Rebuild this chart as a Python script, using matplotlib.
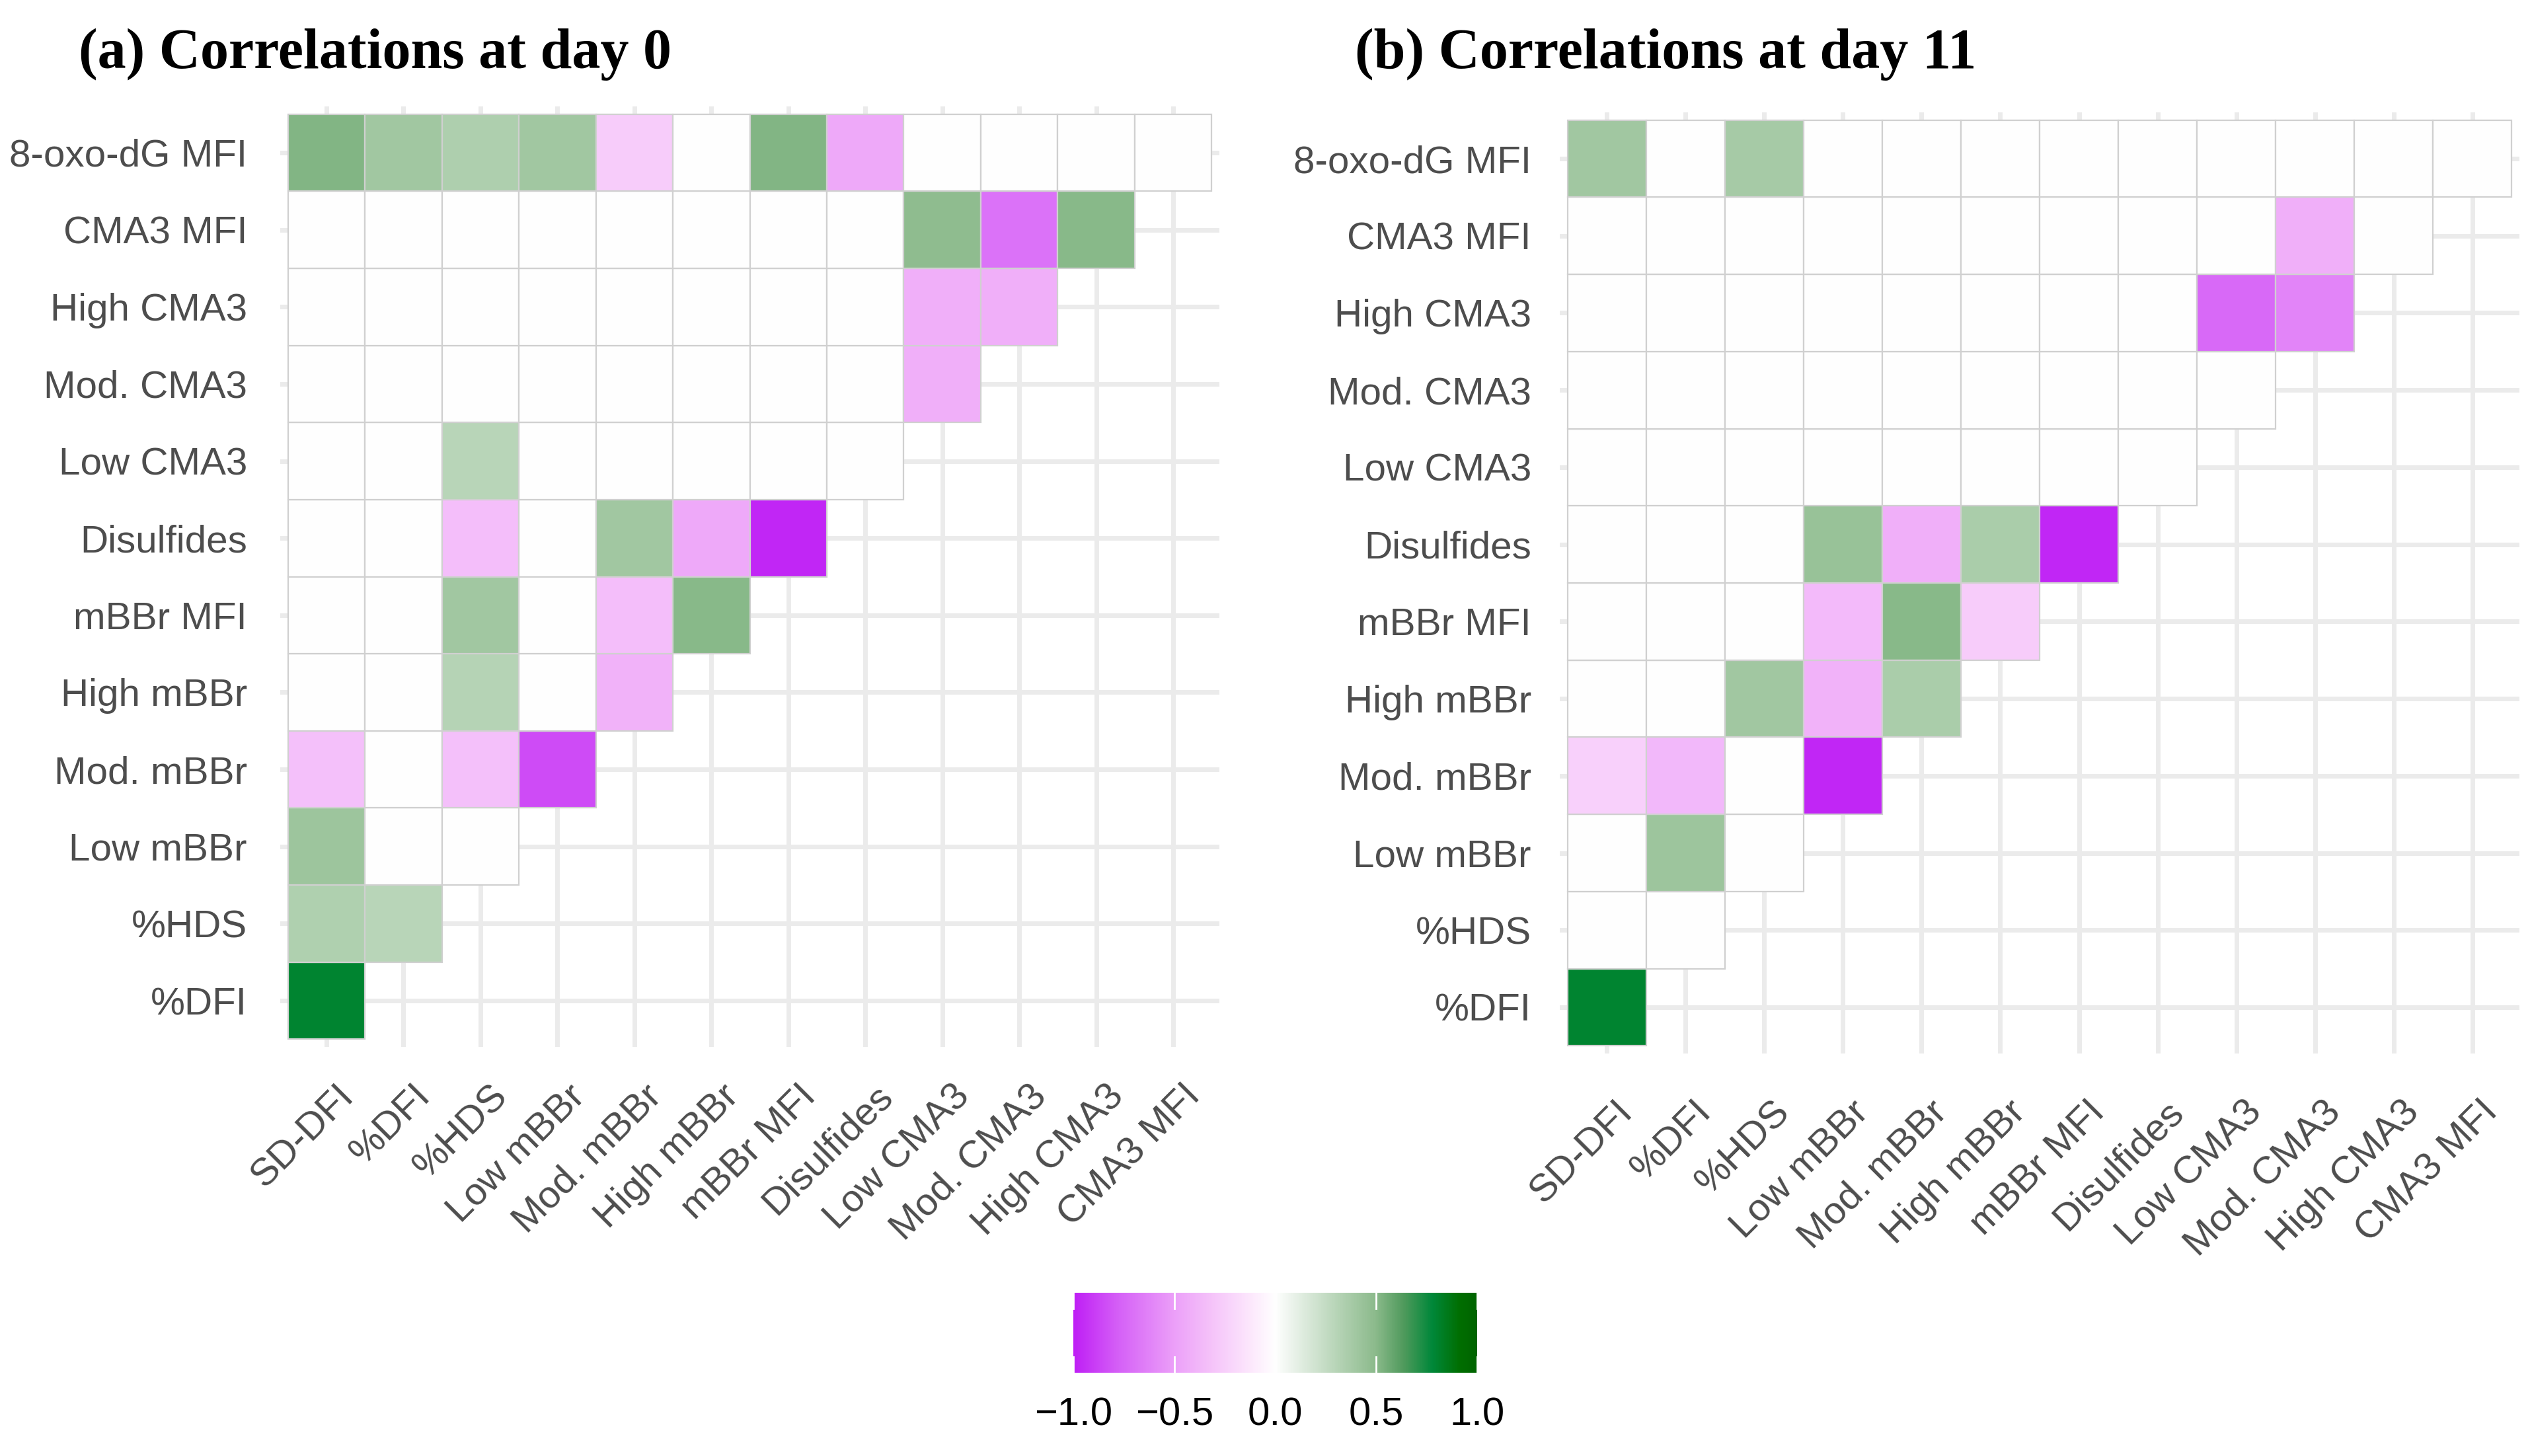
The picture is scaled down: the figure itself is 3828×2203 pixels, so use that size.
import numpy as np
import matplotlib
matplotlib.use('Agg')
import matplotlib.pyplot as plt
from matplotlib.colors import LinearSegmentedColormap, Normalize
import matplotlib.transforms as mtransforms

# variables on x (columns) and y (rows, bottom to top)
x_vars = ['SD-DFI', '%DFI', '%HDS', 'Low mBBr', 'Mod. mBBr', 'High mBBr',
          'mBBr MFI', 'Disulfides', 'Low CMA3', 'Mod. CMA3', 'High CMA3', 'CMA3 MFI']
y_vars = ['%DFI', '%HDS', 'Low mBBr', 'Mod. mBBr', 'High mBBr', 'mBBr MFI',
          'Disulfides', 'Low CMA3', 'Mod. CMA3', 'High CMA3', 'CMA3 MFI', '8-oxo-dG MFI']

# lower-triangle correlations (0 = not significant), one row per y variable
day0_rows = [
    [0.80],
    [0.34, 0.30],
    [0.42, 0, 0],
    [-0.33, 0, -0.33, -0.85],
    [0, 0, 0.32, 0, -0.40],
    [0, 0, 0.40, 0, -0.34, 0.50],
    [0, 0, -0.34, 0, 0.40, -0.45, -0.97],
    [0, 0, 0.30, 0, 0, 0, 0, 0],
    [0, 0, 0, 0, 0, 0, 0, 0, -0.42],
    [0, 0, 0, 0, 0, 0, 0, 0, -0.42, -0.42],
    [0, 0, 0, 0, 0, 0, 0, 0, 0.48, -0.70, 0.50],
    [0.52, 0.40, 0.35, 0.40, -0.27, 0, 0.52, -0.45, 0, 0, 0, 0],
]
day11_rows = [
    [0.80],
    [0, 0],
    [0, 0.42, 0],
    [-0.25, -0.37, 0, -0.97],
    [0, 0, 0.40, -0.40, 0.36],
    [0, 0, 0, -0.36, 0.50, -0.27],
    [0, 0, 0, 0.44, -0.42, 0.36, -0.97],
    [0, 0, 0, 0, 0, 0, 0, 0],
    [0, 0, 0, 0, 0, 0, 0, 0, 0],
    [0, 0, 0, 0, 0, 0, 0, 0, -0.74, -0.62],
    [0, 0, 0, 0, 0, 0, 0, 0, 0, -0.42, 0],
    [0.40, 0, 0.38, 0, 0, 0, 0, 0, 0, 0, 0, 0],
]

cbar_ticks = [-1.0, -0.5, 0.0, 0.5, 1.0]

cmap = LinearSegmentedColormap.from_list('corr', [
    (0.0, '#BF1FF5'), (0.11, '#D560F7'), (0.25, '#ECA0F9'), (0.35, '#F6C6FA'),
    (0.445, '#FDEAFD'), (0.5, '#FFFFFF'), (0.63, '#C2DBC2'), (0.75, '#8BBA8B'),
    (0.82, '#4F9A5C'), (0.89, '#00883A'), (0.96, '#006E00'), (1.0, '#006400')])
norm = Normalize(-1, 1)

W, H = 3828, 2203
fig = plt.figure(figsize=(W / 100, H / 100), dpi=100)


def panel(rect_px, rows, title, title_x, ypad, xpad, xdx):
    x0, y0, x1, y1 = rect_px
    ax = fig.add_axes([x0 / W, 1 - y1 / H, (x1 - x0) / W, (y1 - y0) / H])
    # one row of tiles per y variable (lower triangle only)
    for j, r in enumerate(rows):
        ax.bar(np.arange(len(r)), 1.0, bottom=j - 0.5, width=1.0,
               color=cmap(norm(np.array(r))), edgecolor='#D0D0D0',
               linewidth=1.6, zorder=2)
    ax.set_xlim(-0.6, len(x_vars) - 0.4)
    ax.set_ylim(-0.6, len(y_vars) - 0.4)
    ax.set_xticks(range(len(x_vars)))
    ax.set_yticks(range(len(y_vars)))
    ax.set_xticklabels(x_vars, rotation=45, ha='right', va='top',
                       rotation_mode='anchor')
    ax.set_yticklabels(y_vars)
    ax.tick_params(axis='both', length=0, labelsize=42, labelcolor='#4D4D4D')
    ax.tick_params(axis='y', pad=ypad)
    ax.tick_params(axis='x', pad=xpad)
    off = mtransforms.ScaledTranslation(xdx / 72, 0, fig.dpi_scale_trans)
    for lbl in ax.get_xticklabels():
        lbl.set_transform(lbl.get_transform() + off)
        lbl.set_fontfamily('Liberation Sans')
    for lbl in ax.get_yticklabels():
        lbl.set_fontfamily('Liberation Sans')
    ax.grid(True, color='#EBEBEB', linewidth=5, zorder=0)
    ax.set_axisbelow(True)
    for s in ax.spines.values():
        s.set_visible(False)
    fig.text(title_x / W, 1 - 103 / H, title, fontsize=62, fontweight='bold',
             family='Liberation Serif', va='baseline', ha='left')
    return ax


panel((424, 161, 1845, 1584), day0_rows, '(a) Correlations at day 0', 119, 36, 34, 10)
panel((2360, 170, 3812, 1594), day11_rows, '(b) Correlations at day 11', 2050, 31, 44, 8)

# colour bar
cx0, cy0, cx1, cy1 = 1624, 1956, 2235, 2077
cax = fig.add_axes([cx0 / W, 1 - cy1 / H, (cx1 - cx0) / W, (cy1 - cy0) / H])
grad = np.linspace(-1, 1, 512).reshape(1, -1)
cax.imshow(grad, cmap=cmap, vmin=-1, vmax=1, aspect='auto',
           extent=(-1, 1, 0, 1))
for t in cbar_ticks:
    cax.plot([t, t], [0, 0.2], color='white', lw=2)
    cax.plot([t, t], [0.8, 1], color='white', lw=2)
cax.set_xlim(-1, 1)
cax.set_ylim(0, 1)
cax.set_yticks([])
cax.set_xticks(cbar_ticks)
cax.set_xticklabels(['\u22121.0', '\u22120.5', '0.0', '0.5', '1.0'],
                    family='Liberation Sans')
cax.tick_params(axis='x', length=0, labelsize=43, pad=26, labelcolor='black')
for s in cax.spines.values():
    s.set_visible(False)

fig.savefig('out.png', dpi=100)
